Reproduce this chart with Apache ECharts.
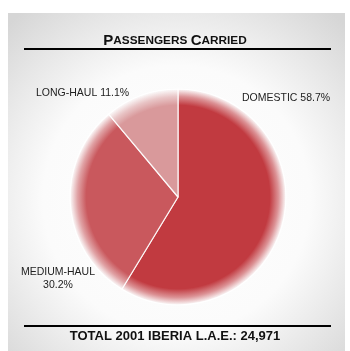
<!DOCTYPE html>
<html><head><meta charset="utf-8">
<script src="https://cdn.jsdelivr.net/npm/echarts@6/dist/echarts.min.js"></script>
<style>html,body{margin:0;padding:0;background:#fff}#c{width:350px;height:351px}</style>
</head><body><div id="c"></div>
<script>
const categories = ['DOMESTIC', 'MEDIUM-HAUL', 'LONG-HAUL'];
const shares = [58.7, 30.2, 11.1];
const colors = [[193,58,64], [201,88,93], [217,153,155]];
const titleText = 'PASSENGERS CARRIED';
const footerText = 'TOTAL 2001 IBERIA L.A.E.: 24,971';

const labelPos = [
  {x: 242, y: 98, align: 'left'},
  {x: 58, y: 278.5, align: 'center'},
  {x: 36, y: 93, align: 'left'}
];
const CX = 178, CY = 197, R = 108;

function smallCaps(s){
  return s.split(' ').map(w => '{a|' + w[0] + '}{b|' + w.slice(1) + '}').join('{b| }');
}
function fill(c){
  const s = c.join(',');
  return {type:'radial', x:CX, y:CY, r:R, global:true, colorStops:[
    {offset:0, color:'rgb('+s+')'},
    {offset:0.85, color:'rgb('+s+')'},
    {offset:0.93, color:'rgba('+s+',0.55)'},
    {offset:1, color:'rgba('+s+',0)'}]};
}

const chart = echarts.init(document.getElementById('c'), null, {renderer:'canvas'});
chart.setOption({
  animation: false,
  backgroundColor: '#ffffff',
  graphic: [
    {type:'rect', z:-10, shape:{x:8, y:13, width:337, height:338},
     style:{fill:{type:'radial', x:0.5, y:0.55, r:0.72, colorStops:[
       {offset:0, color:'#ffffff'},{offset:0.55, color:'#fbfbfb'},{offset:1, color:'#d6d6d6'}]}}},
    {type:'text', left:'center', top:33, style:{
      text: smallCaps(titleText), fill:'#111',
      rich:{a:{fontSize:15, fontWeight:'bold', fontFamily:'Liberation Sans', fill:'#111'},
            b:{fontSize:11.8, fontWeight:'bold', fontFamily:'Liberation Sans', fill:'#111'}}}},
    {type:'rect', shape:{x:24, y:48, width:307, height:2}, style:{fill:'#000'}},
    {type:'rect', shape:{x:24, y:325, width:307, height:2}, style:{fill:'#000'}},
    {type:'text', left:'center', top:330, style:{
      text: footerText, fill:'#111', fontSize:13, fontWeight:'bold', fontFamily:'Liberation Sans'}}
  ],
  series: [{
    type:'pie',
    center:[CX, CY],
    radius: R,
    startAngle: 90,
    clockwise: true,
    data: categories.map((n,i)=>({name:n, value:shares[i], itemStyle:{color:fill(colors[i])}})),
    itemStyle:{borderColor:'rgba(255,255,255,0.9)', borderWidth:1.2},
    emphasis:{disabled:true},
    labelLine:{show:false},
    label:{
      show:true, position:'outside', color:'#222', fontSize:10.5, fontFamily:'Liberation Sans', lineHeight:13,
      overflow:'none', width:200,
      formatter: p => p.dataIndex === 1 ? p.name + '\n' + p.value.toFixed(1) + '%' : p.name + ' ' + p.value.toFixed(1) + '%'
    },
    labelLayout: p => {
      const lp = labelPos[p.dataIndex];
      return {x: lp.x, y: lp.y, align: lp.align, verticalAlign:'middle', hideOverlap:false, moveOverlap:null};
    }
  }]
});
</script></body></html>
